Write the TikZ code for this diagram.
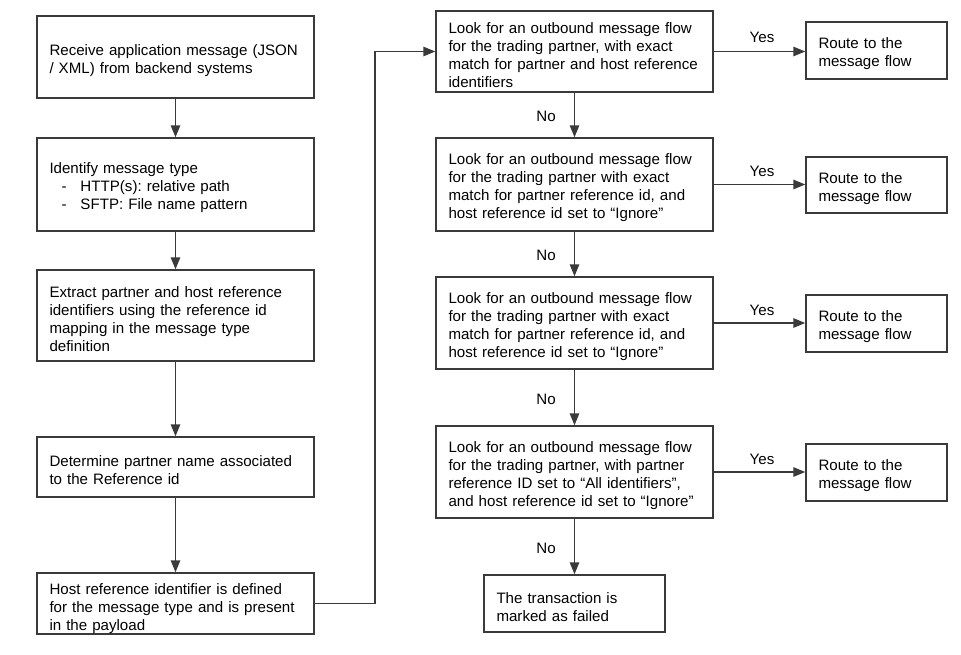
\documentclass[tikz,border=0pt]{standalone}
\usepackage{fontspec}
\setmainfont{Liberation Sans}
\usetikzlibrary{arrows.meta}
\frenchspacing
\definecolor{linegray}{HTML}{3A3A3A}
\begin{document}
\begin{tikzpicture}[x=1pt,y=-1pt,
  box/.style={draw=linegray, line width=1.5pt, rectangle, inner xsep=12.5pt, inner ysep=0pt,
    align=left, font=\fontsize{15.1}{18}\selectfont\frenchspacing, anchor=center,
    execute at begin node={\rule{0pt}{17.5pt}}},
  arr/.style={draw=linegray, line width=1.5pt, -{Triangle[length=12pt,width=9.5pt]}},
  lbl/.style={font=\fontsize{15.1}{18}\selectfont, inner sep=0pt}]
\useasboundingbox (0,0) rectangle (961,654);
\fill[white] (0,0) rectangle (961,654);
% left column
\node[box, text width=252pt, minimum height=82pt] (b1) at (175.5,57)
  {Receive application message (JSON\\/ XML) from backend systems};
\node[box, text width=252pt, minimum height=93pt] (b2) at (175.5,184.5)
  {Identify message type\\
   \hspace*{12pt}\makebox[19pt][l]{-}HTTP(s): relative path\\
   \hspace*{12pt}\makebox[19pt][l]{-}SFTP: File name pattern};
\node[box, text width=252pt, minimum height=91pt] (b3) at (175.5,315.5)
  {Extract partner and host reference\\identifiers using the reference id\\mapping in the message type\\definition};
\node[box, text width=252pt, minimum height=60pt] (b4) at (175.5,467)
  {Determine partner name associated\\to the Reference id};
\node[box, text width=252pt, minimum height=61pt, execute at begin node={\rule{0pt}{20.5pt}}] (b5) at (175.5,603.5)
  {Host reference identifier is defined\\for the message type and is present\\in the payload};
% middle column
\node[box, text width=252pt, minimum height=81pt] (d1) at (574.5,51.5)
  {Look for an outbound message flow\\for the trading partner, with exact\\match for partner and host reference\\identifiers};
\node[box, text width=252pt, minimum height=93pt] (d2) at (574.5,184.5)
  {Look for an outbound message flow\\for the trading partner with exact\\match for partner reference id, and\\host reference id set to “Ignore”};
\node[box, text width=252pt, minimum height=92pt] (d3) at (574.5,323)
  {Look for an outbound message flow\\for the trading partner with exact\\match for partner reference id, and\\host reference id set to “Ignore”};
\node[box, text width=252pt, minimum height=92pt] (d4) at (574.5,472)
  {Look for an outbound message flow\\for the trading partner, with partner\\reference ID set to “All identifiers”,\\and host reference id set to “Ignore”};
\node[box, text width=156pt, minimum height=57pt] (fail) at (574.5,603.5)
  {The transaction is\\marked as failed};
% right column
\node[box, text width=116pt, minimum height=57pt] (r1) at (876.5,50.5) {Route to the\\message flow};
\node[box, text width=116pt, minimum height=56pt] (r2) at (876.5,185) {Route to the\\message flow};
\node[box, text width=116pt, minimum height=57pt] (r3) at (876.5,323.5) {Route to the\\message flow};
\node[box, text width=116pt, minimum height=57pt] (r4) at (876.5,472.5) {Route to the\\message flow};
% left column arrows
\draw[arr] (b1) -- (b2);
\draw[arr] (b2) -- (b3);
\draw[arr] (b3) -- (b4);
\draw[arr] (b4) -- (b5);
% connector to d1
\coordinate (k1) at (375,603.5);
\coordinate (k2) at (375,51.5);
\draw[arr] (b5.east) -- (k1) -- (k2) -- (d1.west);
% No arrows
\draw[arr] (d1) -- (d2);
\draw[arr] (d2) -- (d3);
\draw[arr] (d3) -- (d4);
\draw[arr] (d4) -- (fail);
\node[lbl] (n1) at (546,116) {No};
\node[lbl] (n2) at (546,255) {No};
\node[lbl] (n3) at (546,399) {No};
\node[lbl] (n4) at (546,548) {No};
% Yes arrows
\draw[arr] (d1.east) -- (d1.east -| r1.west);
\draw[arr] (d2.east) -- (d2.east -| r2.west);
\draw[arr] (d3.east) -- (d3.east -| r3.west);
\draw[arr] (d4.east) -- (d4.east -| r4.west);
\node[lbl] (y1) at (762,37) {Yes};
\node[lbl] (y2) at (762,171) {Yes};
\node[lbl] (y3) at (762,310) {Yes};
\node[lbl] (y4) at (762,459) {Yes};
\end{tikzpicture}
\end{document}
